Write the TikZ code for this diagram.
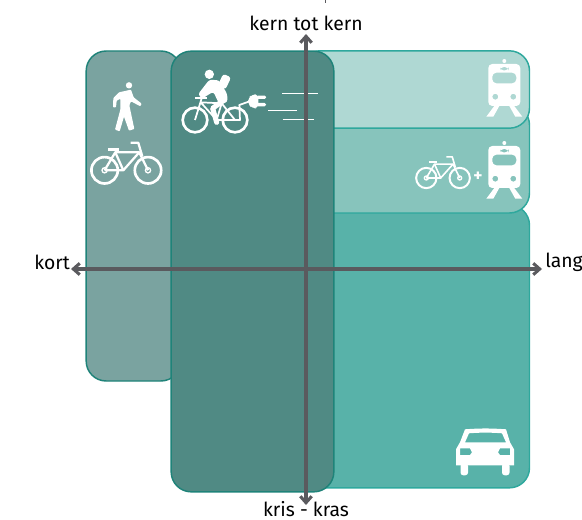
\documentclass[tikz,border=0pt]{standalone}
\usepackage{fontspec}
\setmainfont{Fira Sans}
\usetikzlibrary{arrows.meta,positioning}
\definecolor{Pale}{HTML}{AFD8D3}
\definecolor{Mid}{HTML}{87C4BC}
\definecolor{Sea}{HTML}{58B2A9}
\definecolor{Slate}{HTML}{7AA3A0}
\definecolor{Deep}{HTML}{508A84}
\definecolor{EdgeLight}{HTML}{2EA89D}
\definecolor{EdgeDark}{HTML}{1F8379}
\definecolor{AxisGrey}{HTML}{5A5A5E}
\begin{document}
\begin{tikzpicture}[x=.75pt,y=-.75pt,
zone/.style={draw=EdgeLight,line width=1.1pt,rounded corners=15pt,inner sep=0pt},
zonedark/.style={zone,draw=EdgeDark},
axis/.style={{Straight Barb[length=1.7mm,width=3mm]}-{Straight Barb[length=1.7mm,width=3mm]},line width=2.3pt,draw=AxisGrey},
lab/.style={font=\fontsize{14.5}{16}\selectfont,inner sep=0pt,text=black},
wheel/.style={draw=white,line width=2pt},
frame/.style={draw=white,line width=1.7pt,line join=round},
speed/.style={draw=white,line width=.5pt},
bike/.pic={
\draw[wheel](-21.7,0)circle(13.2);\draw[wheel](21.7,0)circle(13.2);
\draw[frame](-21.7,0)--(-11,-18)--(13,-18)--(21.7,0);\draw[frame](-21.7,0)--(-3,0)--(-11,-18);\draw[frame](-3,0)--(13,-18);
\draw[frame,line width=2.1pt](-18,-20.7)--(-7.7,-20.7);\draw[frame](4.3,-27.5)--(12,-27.5)--(16,-14);
\draw[white,line width=1pt](-21.7,0)circle(2.6);\draw[white,line width=1pt](21.7,0)circle(2.6);},
train/.pic={
\fill[white,even odd rule,rounded corners=3pt](-16,-21)--(16,-21)--(16,21)--(-16,21)--cycle
(-12,-12.3)--(12,-12.3)--(12,-1.7)--(-12,-1.7)--cycle (-4.5,-18)--(4.5,-18)--(4.5,-14.5)--(-4.5,-14.5)--cycle
(-9,11.7)circle(3)(9,11.7)circle(3);
\fill[white](0,-24)circle(2);
\fill[white](-10,21)--(-5,21)--(-11,31.7)--(-18,31.7)--cycle;\fill[white](10,21)--(5,21)--(11,31.7)--(18,31.7)--cycle;}]
\useasboundingbox(0,0)rectangle(582,520);
\node[zone,fill=Sea,minimum width=172.5pt,minimum height=212pt](car)at(414.5,346.5){};
\node[zone,fill=Mid,minimum width=172.5pt,minimum height=81pt](combi)at(414.5,159){};
\node[zone,fill=Pale,minimum width=172.5pt,minimum height=58pt](trein)at(414.5,89.5){};
\node[zonedark,fill=Slate,minimum width=71pt,minimum height=247.5pt](lopen)at(133.5,216){};
\node[zonedark,fill=Deep,minimum width=122pt,minimum height=330.5pt](ebike)at(252.5,271.5){};
% walker
\begin{scope}[shift={(105,78)},scale=1/3]
\fill[white](72,22)circle(9.5);
\fill[white,rounded corners=.6pt](42,43)--(78,35)--(86,58)--(110,77)--(106,85)--(78,70)--(73,82)--(88,153)--(72,158)--(57,116)--(44,160)--(30,155)--(46,95)--(46,62)--(35,68)--(33,88)--(24,88)--(25,60)--cycle;
\end{scope}
\pic at(126.3,170.3){bike};
% e-bike
\begin{scope}[shift={(180,65)},scale=1/3]
\draw[wheel](45,165)circle(37);\draw[wheel](165,165)circle(37);
\draw[frame,line width=1.3pt](45,165)--(65,100);\draw[frame,line width=1.3pt](62,112)--(125,115)--(165,165)--(110,165)--(62,112);\draw[frame,line width=1.3pt](125,115)--(110,165);
\draw[frame](46,100)--(82,100);
\fill[white](88,28)circle(14);
\fill[white,rotate around={-25:(133,50)},rounded corners=2pt](120,30)rectangle(146,70);
\fill[white,rounded corners=2pt](88,44)--(118,46)--(142,88)--(142,112)--(118,118)--(100,80)--(66,101)--(54,88)--cycle;
\draw[white,line width=3.8pt,line join=round,line cap=round](128,108)--(98,130)--(110,172);
\draw[frame,line width=1.3pt](150,165)--(180,165)--(178,120)--(206,110);
\fill[white,rounded corners=3pt](235,88)--(217,88)--(204,100)--(204,118)--(217,130)--(235,130)--cycle;
\fill[white,rounded corners=1pt](230,92)rectangle(258,102);\fill[white,rounded corners=1pt](230,114)rectangle(258,124);
\end{scope}
\draw[speed](282,93.3)--(317.7,93.3);\draw[speed](268,110.3)--(297.3,110.3);\draw[speed](282.7,119.3)--(313.7,119.3);
% trains
\pic at(504.3,85){train};
\pic at(504.3,167){train};
\pic[scale=.77,wheel/.append style={line width=1.5pt},frame/.append style={line width=1.2pt}]at(443,178){bike};
\node[text=white,font=\fontsize{13}{13}\selectfont\bfseries,inner sep=0pt](plus)at(478,177){+};
% car
\begin{scope}[shift={(485,453.3)}]
\fill[white,even odd rule](-20,-24)to[bend left=4](21,-24)--(25,-11)--(29,-4)--(29,12)--(-29,12)--(-29,-4)--(-25,-11)--cycle
(-20,-11)--(-16,-20)to[bend left=4](17,-20)--(21,-11)--cycle
(-25,-5)--(-15,-5)--(-13,-1)--(-15,1.7)--(-25,1.7)--cycle (25,-5)--(15,-5)--(13,-1)--(15,1.7)--(25,1.7)--cycle;
\fill[white,rounded corners=2pt](-24.5,10)rectangle(-17,22);\fill[white,rounded corners=2pt](17,10)rectangle(24.5,22);
\end{scope}
% axes
\coordinate(west)at(71,269);\coordinate(east)at(542,269);\coordinate(north)at(306,34);\coordinate(south)at(306,505);
\draw[axis](west)--(east);\draw[axis](south)--(north);
\coordinate(tickA)at(325,0);\coordinate(tickB)at(325,3);
\draw[AxisGrey,line width=.6pt](tickA)--(tickB);
\node[lab](kern)at(306,23){kern tot kern};
\node[lab](kris)at(306,509){kris - kras};
\node[lab](kort)at(52,262){kort};
\node[lab](lang)at(564,262){lang};
\end{tikzpicture}
\end{document}
